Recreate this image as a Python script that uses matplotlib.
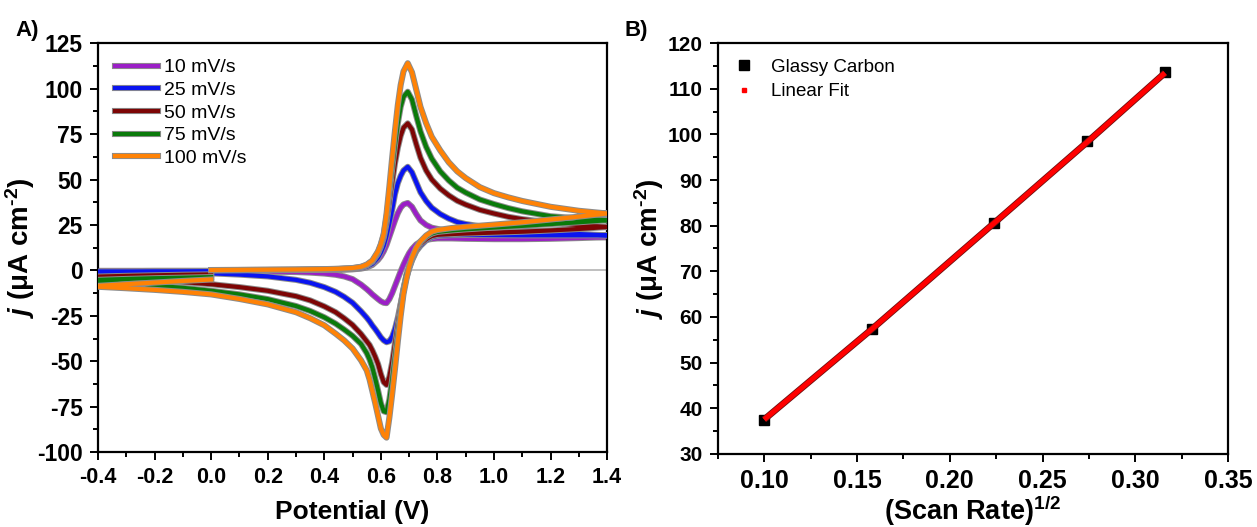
import matplotlib
matplotlib.use("Agg")
import matplotlib.pyplot as plt
import matplotlib.patheffects as pe
from matplotlib.ticker import MultipleLocator
from matplotlib.lines import Line2D

# ---- panel A: cyclic voltammograms (potential grids shared by all rates)
e_fwd = [0.0, 0.1, 0.2, 0.3, 0.4, 0.45, 0.5, 0.53, 0.55, 0.57, 0.59, 0.60,
         0.61, 0.62, 0.63, 0.64, 0.65, 0.66, 0.67, 0.68, 0.695, 0.71, 0.725,
         0.74, 0.76, 0.78, 0.81, 0.84, 0.87, 0.9, 0.95, 1.0, 1.05, 1.1, 1.2,
         1.3, 1.4]
e_rev = [1.4, 1.3, 1.2, 1.1, 1.0, 0.9, 0.85, 0.8, 0.78, 0.76, 0.74, 0.725,
         0.71, 0.70, 0.69, 0.68, 0.67, 0.66, 0.65, 0.64, 0.63, 0.62, 0.61,
         0.60, 0.59, 0.58, 0.57, 0.56, 0.55, 0.53, 0.5, 0.47, 0.44, 0.4, 0.35,
         0.3, 0.2, 0.1, 0.0, -0.1, -0.2, -0.3, -0.4]
e_ret = [-0.4, -0.3, -0.2, -0.1, 0.0]

scan_labels = ["10 mV/s", "25 mV/s", "50 mV/s", "75 mV/s", "100 mV/s"]
scan_colors = ["#9b1fc6", "#0a14f0", "#7d0505", "#0a7a0a", "#ff8205"]

j_fwd_10 = [0.0, 0.0, 0.1, 0.1, 0.2, 0.3, 0.6, 1.0, 1.6, 3.0, 5.8, 7.8, 10.5,
            14, 18.5, 23, 27.5, 31.5, 34.5, 36.3, 37.1, 35, 31, 27.5, 25,
            23.5, 22.5, 21.8, 21.3, 21, 20.5, 20.2, 19.8, 19.5, 19, 18.6, 18.3]
j_rev_10 = [18.3, 17.8, 17.4, 17.2, 17.2, 17.4, 17.6, 17.6, 17.3, 16.8, 15.8,
            14.3, 11.8, 9.5, 6.5, 3.2, -0.5, -4.5, -8.5, -12.5, -15.8, -18,
            -17.8, -17, -15.8, -14.5, -13.2, -11.7, -10.3, -7.8, -4.8, -3.3,
            -2.4, -1.7, -1.2, -0.9, -0.7, -0.6, -0.5, -0.4, -0.4, -0.3, -0.3]
j_ret_10 = [-0.3, -0.3, -0.2, -0.2, -0.2]

j_fwd_25 = [0.0, 0.1, 0.1, 0.2, 0.3, 0.5, 0.8, 1.3, 2.0, 3.6, 7, 9.8, 13.5,
            19, 26, 33.5, 42, 48, 52, 55, 57, 54, 48.5, 43, 38.2, 34.5, 31,
            28.5, 26.6, 25.5, 24.3, 23.5, 22.8, 22, 20.9, 20, 19.3]
j_rev_25 = [19.3, 19.3, 19.3, 19.3, 19.4, 19.5, 19.4, 19, 18.2, 16.5, 13.5,
            10.5, 5.5, 1, -4, -11, -18.5, -26, -32, -36.5, -39, -39.5, -38.5,
            -36.8, -34.5, -32.3, -30.3, -28, -26, -22.5, -17.8, -14.5, -11.8,
            -9.2, -6.8, -5.2, -3.3, -2.3, -1.6, -1.2, -1.0, -0.9, -0.8]
j_ret_25 = [-0.7, -0.6, -0.5, -0.5, -0.4]

j_fwd_50 = [0.1, 0.1, 0.2, 0.3, 0.5, 0.7, 1.1, 1.7, 2.7, 4.8, 9.3, 13, 18,
            26, 37, 48.5, 59, 67.5, 74, 78.5, 80.9, 77.5, 69.5, 62, 55, 50,
            45, 41.3, 38.3, 36.2, 33.3, 31.3, 29.5, 28.2, 26.3, 24.9, 23.9]
j_rev_50 = [23.9, 22.8, 22, 21.3, 20.8, 20.3, 20, 19.6, 18.9, 17.2, 14.5, 11,
            6, 1.5, -3.5, -10, -19, -29, -40, -50.5, -58.5, -63, -61.5, -57,
            -51.5, -47.5, -44, -41, -39, -35, -30, -26.3, -23, -19.8, -16.5,
            -14.2, -11.2, -9.2, -7.6, -6.4, -5.4, -4.7, -4.2]
j_ret_50 = [-3.4, -3.0, -2.7, -2.4, -2.2]

j_fwd_75 = [0.1, 0.2, 0.3, 0.4, 0.6, 0.8, 1.2, 1.9, 3, 5.2, 10, 14, 19.5, 29,
            42, 56, 69, 81, 90, 95.5, 98.3, 94, 85, 76.5, 68, 61.5, 54.5, 49.5,
            45.5, 42.8, 39, 36.5, 34.3, 32.5, 29.8, 28.6, 27.6]
j_rev_75 = [27.6, 26.5, 25.5, 24.5, 23.6, 22.6, 22, 21.2, 20.3, 18.5, 15.5,
            12, 6.5, 2, -2.5, -11, -22, -34, -47, -60, -71, -78, -77.5, -73,
            -66, -59.5, -53.5, -49, -45.5, -40.5, -36, -32.5, -29.3, -25.8,
            -22.3, -19.6, -15.8, -13.2, -11.2, -9.6, -8.4, -7.4, -6.6]
j_ret_75 = [-5.2, -4.7, -4.3, -4.0, -3.7]

j_fwd_100 = [0.2, 0.3, 0.4, 0.5, 0.7, 0.9, 1.3, 2.0, 3.2, 5.5, 10.5, 14.5,
             20, 31, 46, 62, 77, 91, 102, 109.5, 114, 109, 99.5, 90, 81, 73.5,
             66, 59.5, 54.5, 50.8, 45.8, 42.5, 40.2, 38.2, 35, 32.8, 31.3]
j_rev_100 = [31.3, 29.6, 28, 26.5, 25.2, 24, 23.3, 22.2, 21.3, 19.2, 16, 12.5,
             7, 2, -5, -13, -25, -39, -54, -68, -81, -92, -90.5, -87, -80, -73,
             -66.5, -60, -55, -49.5, -43, -38.5, -34.8, -30.2, -26.3, -23,
             -18.7, -15.7, -13.2, -11.8, -10.7, -9.8, -9.0]
j_ret_100 = [-8.5, -7.6, -6.7, -5.8, -5.0]

# ---- panel B: peak current vs square root of scan rate
sqrt_rate = [0.100, 0.158, 0.224, 0.274, 0.316]
peak_j = [37.3, 57.4, 80.6, 98.5, 113.7]
fit_j = [37.5, 57.3, 80.6, 98.3, 113.5]

j_label = r"$j$ (μA cm$^{\text{-2}}$)"


def style_axes(ax, xmaj, xmin, ymaj, ymin, xsize, ysize):
    '''
    [STYLE_AXES] Origin-like frame: outward ticks on bottom and left only,
    bold tick labels.
    '''
    for side in ax.spines.values():
        side.set_linewidth(1.6)
    ax.xaxis.set_major_locator(MultipleLocator(xmaj))
    ax.xaxis.set_minor_locator(MultipleLocator(xmin))
    ax.yaxis.set_major_locator(MultipleLocator(ymaj))
    ax.yaxis.set_minor_locator(MultipleLocator(ymin))
    ax.tick_params(which="both", direction="out", top=False, right=False,
                   width=1.4)
    ax.tick_params(which="major", length=6, pad=5)
    ax.tick_params(which="minor", length=3.5)
    ax.tick_params(axis="x", labelsize=xsize)
    ax.tick_params(axis="y", labelsize=ysize)
    for lab in ax.get_xticklabels() + ax.get_yticklabels():
        lab.set_fontweight("bold")


def plot_cv(ax):
    '''
    [PLOT_CV] draws the five voltammograms for panel A.
    '''
    fwd = [j_fwd_10, j_fwd_25, j_fwd_50, j_fwd_75, j_fwd_100]
    rev = [j_rev_10, j_rev_25, j_rev_50, j_rev_75, j_rev_100]
    ret = [j_ret_10, j_ret_25, j_ret_50, j_ret_75, j_ret_100]

    ax.axhline(0, color="#b4b4b4", lw=1.2, zorder=1)
    outline = [pe.Stroke(linewidth=4.4, foreground="#8c8c8c"), pe.Normal()]
    for k in range(len(scan_labels)):
        e = e_fwd + e_rev + e_ret
        j = fwd[k] + rev[k] + ret[k]
        ax.plot(e, j, color=scan_colors[k], lw=3.0, label=scan_labels[k],
                solid_joinstyle="round", path_effects=outline, zorder=2 + k)

    ax.set_xlim(-0.4, 1.4)
    ax.set_ylim(-100, 125)
    style_axes(ax, 0.2, 0.1, 25, 12.5, 15.5, 16.5)
    ax.xaxis.set_major_formatter(lambda v, p: f"{v:.1f}")

    ax.set_xlabel("Potential (V)", fontsize=19, fontweight="bold",
                  labelpad=8)
    ax.set_ylabel(j_label, fontsize=20, fontweight="bold", labelpad=0)
    ax.legend(loc="upper left", bbox_to_anchor=(0.034, 0.962), frameon=False,
              fontsize=14, handlelength=2.2, handletextpad=0.3,
              labelspacing=0.26, borderaxespad=0, borderpad=0)


def plot_fit(ax):
    '''
    [PLOT_FIT] draws the Randles-Sevcik plot for panel B.
    '''
    ax.plot(sqrt_rate, peak_j, ls="none", marker="s", ms=6.5, color="black",
            zorder=3)
    ax.plot(sqrt_rate, fit_j, color="#ff0000", lw=3.6, zorder=4,
            solid_capstyle="butt",
            path_effects=[pe.Stroke(linewidth=4.8, foreground="#6e1010"),
                          pe.Normal()])

    ax.set_xlim(0.075, 0.35)
    ax.set_ylim(30, 120)
    style_axes(ax, 0.05, 0.025, 10, 5, 18, 15)
    ax.xaxis.set_major_formatter(lambda v, p: f"{v:.2f}")

    ax.set_xlabel(r"(Scan Rate)$^{1/2}$", fontsize=19.5, fontweight="bold",
                  labelpad=0)
    ax.set_ylabel(j_label, fontsize=20, fontweight="bold", labelpad=1)

    handles = [Line2D([], [], ls="none", marker="s", ms=6.5, color="black"),
               Line2D([], [], ls="none", marker="s", ms=2.5, color="#ff0000")]
    ax.legend(handles, ["Glassy Carbon", "Linear Fit"], loc="upper left",
              bbox_to_anchor=(0.022, 0.962), frameon=False, fontsize=13.5,
              handlelength=1.6, handletextpad=0.65, labelspacing=0.38,
              borderaxespad=0, borderpad=0)


def main():
    '''
    [MAIN] builds the two-panel figure and saves it to out.png.
    '''
    plt.rcParams["font.family"] = ["Liberation Sans", "DejaVu Sans"]
    plt.rcParams["axes.unicode_minus"] = False
    plt.rcParams["mathtext.fontset"] = "custom"
    plt.rcParams["mathtext.rm"] = "Liberation Sans:bold"
    plt.rcParams["mathtext.it"] = "Liberation Sans:italic:bold"
    plt.rcParams["mathtext.bf"] = "Liberation Sans:bold"

    fig = plt.figure(figsize=(12.57, 5.27), dpi=100)
    ax_a = fig.add_axes([0.078, 0.142, 0.405, 0.776])
    ax_b = fig.add_axes([0.571, 0.139, 0.406, 0.779])

    plot_cv(ax_a)
    plot_fit(ax_b)

    fig.text(0.012, 0.932, "A)", fontsize=16, fontweight="bold")
    fig.text(0.497, 0.932, "B)", fontsize=16, fontweight="bold")

    fig.savefig("out.png", dpi=100)
    plt.close("all")


if __name__ == "__main__":
    main()
